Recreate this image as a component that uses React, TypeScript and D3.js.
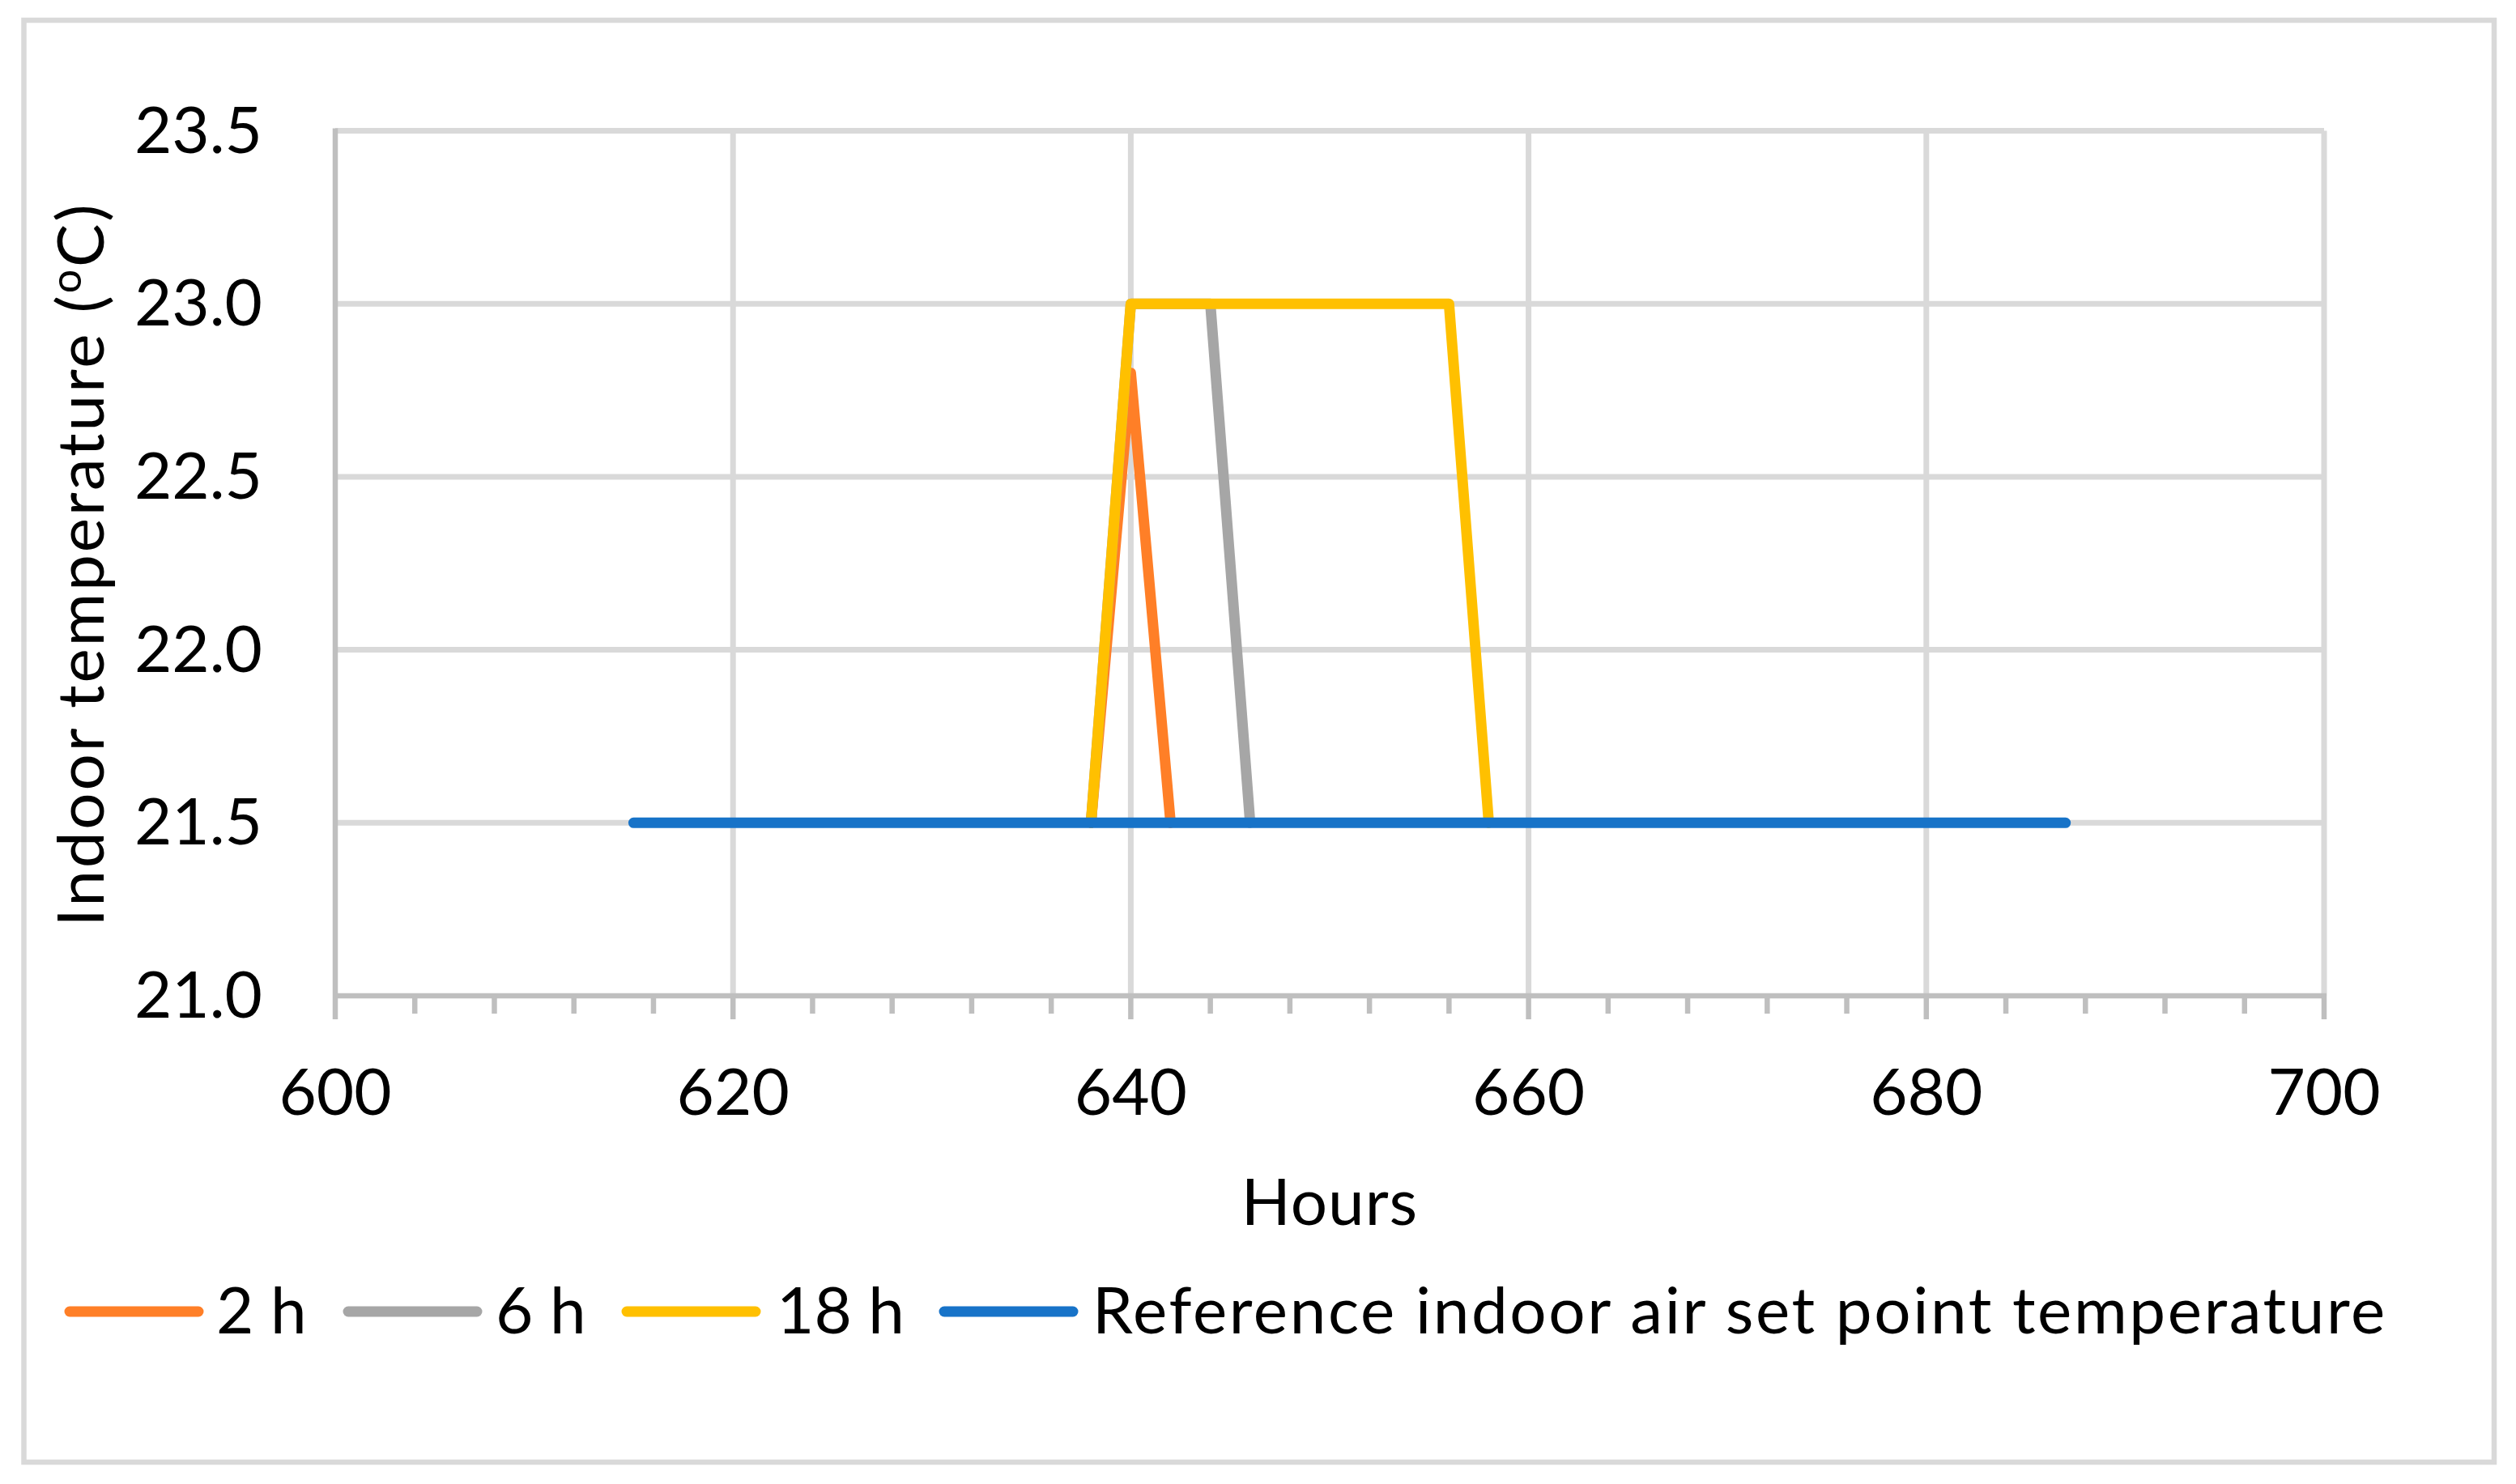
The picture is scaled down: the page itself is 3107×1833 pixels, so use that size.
import React from "react";
import * as d3 from "d3";

// ---- data ----
const hours2h = [638, 640, 642];
const temps2h = [21.5, 22.8, 21.5];
const hours6h = [638, 640, 644, 646];
const temps6h = [21.5, 23.0, 23.0, 21.5];
const hours18h = [638, 640, 656, 658];
const temps18h = [21.5, 23.0, 23.0, 21.5];
const hoursRef = [615, 687];
const tempsRef = [21.5, 21.5];

const seriesNames = ["2 h", "6 h", "18 h", "Reference indoor air set point temperature"];
const seriesColors = ["#FF7F27", "#A6A6A6", "#FFC000", "#1773C8"];
const xTicks = [600, 620, 640, 660, 680, 700];
const yTicks = [21.0, 21.5, 22.0, 22.5, 23.0, 23.5];

const W = 3107;
const H = 1833;
const FONT = "Lato, 'Open Sans', sans-serif";
const FS = 80;

export default function App() {
  const x = d3.scaleLinear().domain([600, 700]).range([414, 2870]);
  const y = d3.scaleLinear().domain([21.0, 23.5]).range([1230, 161.5]);

  const series = [
    { h: hours2h, t: temps2h },
    { h: hours6h, t: temps6h },
    { h: hours18h, t: temps18h },
    { h: hoursRef, t: tempsRef },
  ];
  const line = d3
    .line<[number, number]>()
    .x((d) => x(d[0]))
    .y((d) => y(d[1]));

  const minorTicks = d3.range(600, 700.001, 4).filter((v) => v % 20 !== 0);

  const legendLineX = [86, 430, 774, 1166];
  const legendTextX = [267, 612, 959, 1349];

  return (
    <svg
      width={W}
      height={H}
      style={{ position: "absolute", left: 0, top: 0, background: "#fff" }}
      fontFamily={FONT}
    >
      <rect x={0} y={0} width={W} height={H} fill="#fff" />
      <rect x={29.5} y={25} width={3080 - 29.5} height={1806 - 25} fill="none" stroke="#D9D9D9" strokeWidth={6.5} />

      {/* gridlines */}
      {yTicks.filter((v) => v !== 21.0).map((v) => (
        <line key={"gy" + v} x1={x(600)} x2={x(700)} y1={y(v)} y2={y(v)} stroke="#D9D9D9" strokeWidth={7} />
      ))}
      {xTicks.filter((v) => v !== 600).map((v) => (
        <line key={"gx" + v} x1={x(v)} x2={x(v)} y1={y(23.5)} y2={y(21.0)} stroke="#D9D9D9" strokeWidth={7} />
      ))}

      {/* axes */}
      <line x1={x(600)} x2={x(600)} y1={y(23.5) - 3} y2={y(21.0)} stroke="#BFBFBF" strokeWidth={6.5} />
      <line x1={x(600) - 3} x2={x(700) + 3} y1={y(21.0)} y2={y(21.0)} stroke="#BFBFBF" strokeWidth={6.5} />
      {xTicks.map((v) => (
        <line key={"tk" + v} x1={x(v)} x2={x(v)} y1={y(21.0)} y2={y(21.0) + 29} stroke="#BFBFBF" strokeWidth={6.5} />
      ))}
      {minorTicks.map((v) => (
        <line key={"mk" + v} x1={x(v)} x2={x(v)} y1={y(21.0)} y2={y(21.0) + 22} stroke="#BFBFBF" strokeWidth={6.5} />
      ))}

      {/* tick labels */}
      {yTicks.map((v) => (
        <text key={"yl" + v} x={324} y={y(v) + 27} textAnchor="end" fontSize={FS} fill="#000">
          {v.toFixed(1)}
        </text>
      ))}
      {xTicks.map((v) => (
        <text key={"xl" + v} x={x(v)} y={1377} textAnchor="middle" fontSize={FS} fill="#000">
          {v}
        </text>
      ))}

      {/* axis titles */}
      <text x={(x(600) + x(700)) / 2} y={1513} textAnchor="middle" fontSize={FS} fill="#000" letterSpacing={1}>
        Hours
      </text>
      <text transform="translate(128,697) rotate(-90)" textAnchor="middle" fontSize={FS} fill="#000" letterSpacing={2.8}>
        Indoor temperature (<tspan fontSize={52} dy={-28}>o</tspan>
        <tspan dy={28}>C)</tspan>
      </text>

      {/* series */}
      {series.map((s, i) => (
        <path
          key={"s" + i}
          d={line(s.h.map((h, j) => [h, s.t[j]] as [number, number])) || ""}
          fill="none"
          stroke={seriesColors[i]}
          strokeWidth={13}
          strokeLinejoin="round"
          strokeLinecap="round"
        />
      ))}

      {/* legend */}
      {seriesNames.map((n, i) => (
        <g key={"lg" + i}>
          <line x1={legendLineX[i]} x2={legendLineX[i] + 159} y1={1620} y2={1620} stroke={seriesColors[i]} strokeWidth={13} strokeLinecap="round" />
          <text x={legendTextX[i]} y={1647} fontSize={FS} fill="#000" letterSpacing={i === 3 ? 2.6 : 0}>
            {n}
          </text>
        </g>
      ))}
    </svg>
  );
}
